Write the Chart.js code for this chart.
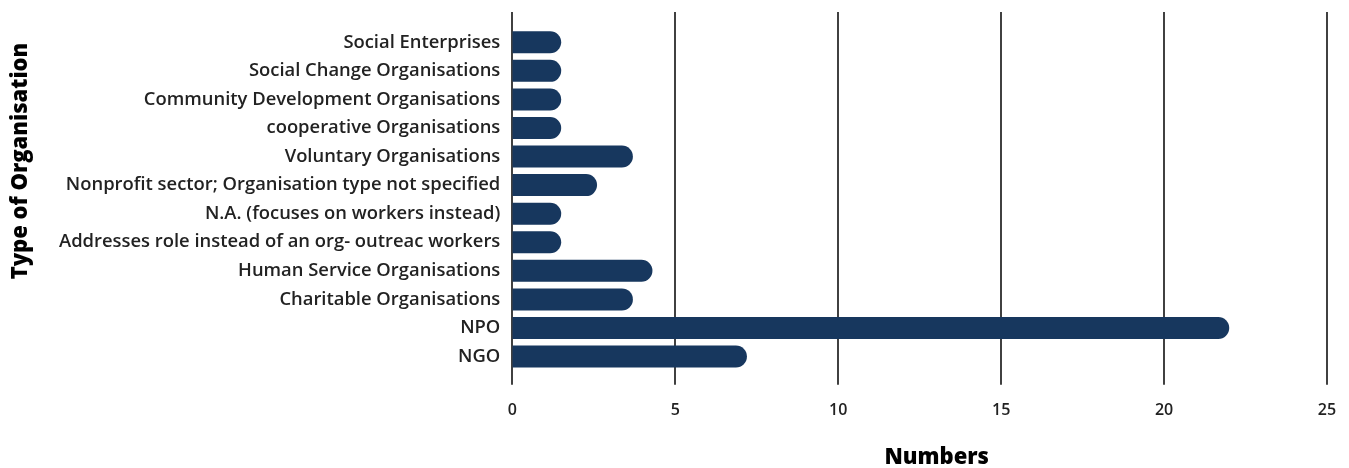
<!DOCTYPE html>
<html>
<head>
<meta charset="utf-8">
<script src="https://cdn.jsdelivr.net/npm/chart.js@4/dist/chart.umd.min.js"></script>
<style>
  html, body { margin: 0; padding: 0; background: #fff; overflow: hidden; }
  canvas { display: block; }
</style>
</head>
<body>
<canvas id="orgChart" width="1349" height="468"></canvas>
<script>
const categories = [
  "Social Enterprises",
  "Social Change Organisations",
  "Community Development Organisations",
  "cooperative Organisations",
  "Voluntary Organisations",
  "Nonprofit sector; Organisation type not specified",
  "N.A. (focuses on workers instead)",
  "Addresses role instead of an org- outreac workers",
  "Human Service Organisations",
  "Charitable Organisations",
  "NPO",
  "NGO"
];
const numbers = [1.5, 1.5, 1.5, 1.5, 3.7, 2.6, 1.5, 1.5, 4.3, 3.7, 22, 7.2];
const xTicks = [0, 5, 10, 15, 20, 25];

const xTitle = "Numbers";
const yTitle = "Type of Organisation";

// vertical grid lines run a little past the plot area at top and bottom
const gridPlugin = {
  id: "tallGrid",
  beforeDatasetsDraw(chart) {
    const { ctx, chartArea, scales } = chart;
    ctx.save();
    ctx.strokeStyle = "#111";
    ctx.lineWidth = 1.6;
    xTicks.forEach(v => {
      const px = Math.round(scales.x.getPixelForValue(v));
      ctx.beginPath();
      ctx.moveTo(px, chartArea.top - 16);
      ctx.lineTo(px, chartArea.bottom + 14);
      ctx.stroke();
    });
    ctx.restore();
  }
};

const titlePlugin = {
  id: "axisTitles",
  afterDraw(chart) {
    const { ctx, chartArea } = chart;
    ctx.save();
    ctx.fillStyle = "#000";
    ctx.font = "800 22px 'Open Sans'";
    ctx.textAlign = "center";
    ctx.textBaseline = "middle";
    ctx.fillText(xTitle, (chartArea.left + chartArea.right) / 2 + 17, chart.height - 10);
    ctx.translate(21, chartArea.top + 133);
    ctx.rotate(-Math.PI / 2);
    ctx.fillText(yTitle, 0, 0);
    ctx.restore();
  }
};

new Chart(document.getElementById("orgChart"), {
  type: "bar",
  data: {
    labels: categories,
    datasets: [{
      data: numbers,
      backgroundColor: "#17375e",
      borderRadius: 11,
      borderSkipped: "start",
      barPercentage: 0.77,
      categoryPercentage: 1
    }]
  },
  options: {
    indexAxis: "y",
    responsive: false,
    animation: false,
    layout: { padding: { top: 28, right: 22, bottom: 48, left: 55 } },
    plugins: { legend: { display: false }, tooltip: { enabled: false } },
    scales: {
      x: {
        min: 0,
        max: 25,
        afterBuildTicks: axis => { axis.ticks = xTicks.map(v => ({ value: v })); },
        // grid itself is drawn by tallGrid; tickLength only reserves room above the labels
        grid: { display: false, tickLength: 30 },
        border: { display: false },
        ticks: {
          padding: 0,
          color: "#222",
          font: { family: "'Open Sans'", size: 16, weight: "600" }
        }
      },
      y: {
        grid: { display: false },
        border: { display: false },
        ticks: {
          padding: 4,
          color: "#222",
          font: { family: "'Open Sans'", size: 18.4, weight: "600" }
        }
      }
    }
  },
  plugins: [gridPlugin, titlePlugin]
});
</script>
</body>
</html>
